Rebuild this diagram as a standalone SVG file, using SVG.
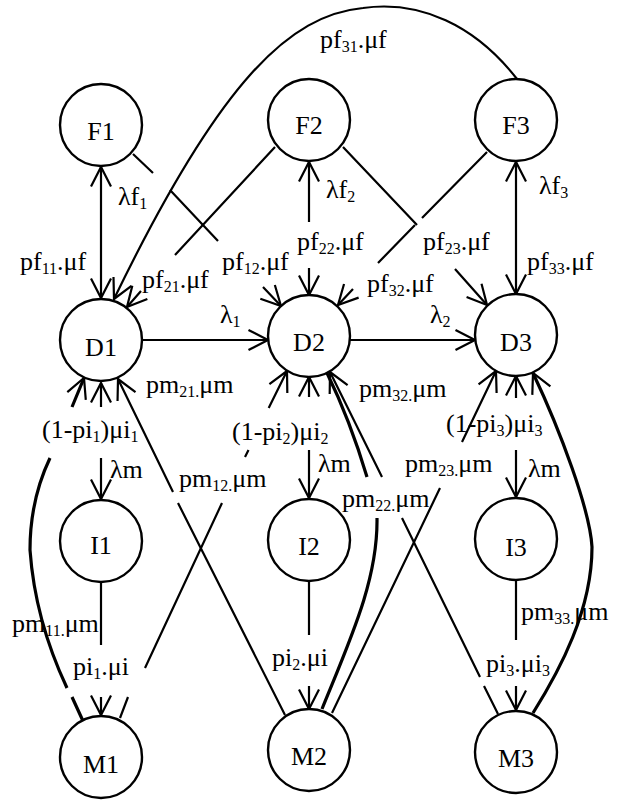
<svg xmlns="http://www.w3.org/2000/svg" width="619" height="801" viewBox="0 0 619 801">
<style>
.c{fill:none;stroke:#000;stroke-width:2.2}
.k{fill:none;stroke:#000;stroke-width:3.2}
.nd{fill:#fff;stroke:#000;stroke-width:2.4}
.t{font-family:"Liberation Serif","Times New Roman",serif;font-size:26px;fill:#000}
.n{text-anchor:middle}
.s{font-size:16px}
</style>
<defs>
<marker id="ah" markerUnits="userSpaceOnUse" markerWidth="30" markerHeight="30" viewBox="-25 -15 30 30" refX="0" refY="0" orient="auto-start-reverse" overflow="visible">
<path d="M-19.5 -10 L0 0 L-19.5 10" fill="none" stroke="#000" stroke-width="2.2"/>
</marker>
</defs>
<rect width="619" height="801" fill="#fff"/>
<g id="connectors">
<line class="c" x1="101" y1="167" x2="101" y2="298" marker-start="url(#ah)" marker-end="url(#ah)"/>
<path class="c" d="M309 222 L309 162" marker-end="url(#ah)"/>
<path class="c" d="M309 268 L309 295" marker-end="url(#ah)"/>
<line class="c" x1="516" y1="162" x2="516" y2="294" marker-start="url(#ah)" marker-end="url(#ah)"/>
<path class="c" d="M133 154 L153 173 M170 190 L218 241 M263 287 L281 306" marker-end="url(#ah)"/>
<path class="c" d="M275 147 L175 255 M141 291 L127 307" marker-end="url(#ah)"/>
<path class="c" d="M343 147 L417 225 M455 269 L487 305" marker-end="url(#ah)"/>
<path class="c" d="M487 152 L422 218 M415 225 L378 263 M353 289 L338 305" marker-end="url(#ah)"/>
<path class="c" d="M517 79 C475 25 420 0 363 8 C290 15 220 80 114 299" marker-end="url(#ah)"/>
<path class="c" d="M143 340 L268 340" marker-end="url(#ah)"/>
<path class="c" d="M350 340 L475 340" marker-end="url(#ah)"/>
<path class="c" d="M101 407 L101 383" marker-end="url(#ah)"/>
<path class="c" d="M101 458 L101 499" marker-end="url(#ah)"/>
<path class="c" d="M309 397 L309 377" marker-end="url(#ah)"/>
<path class="c" d="M309 450 L309 498" marker-end="url(#ah)"/>
<path class="c" d="M516 398 L516 376" marker-end="url(#ah)"/>
<path class="c" d="M516 450 L516 497" marker-end="url(#ah)"/>
<path class="c" d="M101 582 L101 645 M101 697 L101 715" marker-end="url(#ah)"/>
<path class="c" d="M309 581 L309 635 M309 686 L309 709" marker-end="url(#ah)"/>
<path class="c" d="M516 580 L516 640 M516 686 L516 710" marker-end="url(#ah)"/>
<path class="k" d="M83 721 L72 697 M67 688 Q35 620 30 550 Q30 500 50 458 M72 407 L84 378" marker-end="url(#ah)"/>
<path class="c" d="M285 715 L178 503 M173 492 L118 379" marker-end="url(#ah)"/>
<path class="c" d="M120 718 L128 697 M145 668 L222 503 M245 457 L248.5 450 M268.7 408 L287 371" marker-end="url(#ah)"/>
<path class="k" d="M322 709 C350 640 378 580 377 518 M367 477 Q350 420 327 373"/>
<path class="c" d="M498 714 L484 686 M480 677 L402 518 M382 477 L330 372" marker-end="url(#ah)"/>
<path class="c" d="M332 713 L440 488 M462 442 L496 371" marker-end="url(#ah)"/>
<path class="k" d="M533 713 C560 670 592 610 592 547 C590 510 560 430 533 373" marker-end="url(#ah)"/>
</g>
<g id="F1"><circle class="nd" cx="101" cy="125" r="41"/><text class="t n" x="101" y="140">F1</text></g>
<g id="F2"><circle class="nd" cx="309" cy="120" r="41"/><text class="t n" x="309" y="134">F2</text></g>
<g id="F3"><circle class="nd" cx="516" cy="120" r="41"/><text class="t n" x="516" y="134">F3</text></g>
<g id="D1"><circle class="nd" cx="101" cy="340" r="41"/><text class="t n" x="101" y="356">D1</text></g>
<g id="D2"><circle class="nd" cx="309" cy="336" r="41"/><text class="t n" x="309" y="351">D2</text></g>
<g id="D3"><circle class="nd" cx="516" cy="335" r="41"/><text class="t n" x="516" y="351">D3</text></g>
<g id="I1"><circle class="nd" cx="101" cy="541" r="41"/><text class="t n" x="101" y="554">I1</text></g>
<g id="I2"><circle class="nd" cx="309" cy="540" r="41"/><text class="t n" x="309" y="555">I2</text></g>
<g id="I3"><circle class="nd" cx="516" cy="539" r="41"/><text class="t n" x="516" y="556">I3</text></g>
<g id="M1"><circle class="nd" cx="101" cy="757" r="41"/><text class="t n" x="101" y="773">M1</text></g>
<g id="M2"><circle class="nd" cx="309" cy="750" r="41"/><text class="t n" x="309" y="765">M2</text></g>
<g id="M3"><circle class="nd" cx="516" cy="752" r="41"/><text class="t n" x="516" y="767">M3</text></g>
<g id="labels">
<text class="t" x="320" y="48">pf<tspan class="s" dy="4">31</tspan><tspan dy="-4">.μf</tspan></text>
<text class="t" x="118" y="205">λf<tspan class="s" dy="4">1</tspan></text>
<text class="t" x="326" y="198">λf<tspan class="s" dy="4">2</tspan></text>
<text class="t" x="539" y="194">λf<tspan class="s" dy="4">3</tspan></text>
<text class="t" x="20" y="270">pf<tspan class="s" dy="4">11</tspan><tspan dy="-4">.μf</tspan></text>
<text class="t" x="142" y="288">pf<tspan class="s" dy="4">21</tspan><tspan dy="-4">.μf</tspan></text>
<text class="t" x="222" y="270">pf<tspan class="s" dy="4">12</tspan><tspan dy="-4">.μf</tspan></text>
<text class="t" x="297" y="250">pf<tspan class="s" dy="4">22</tspan><tspan dy="-4">.μf</tspan></text>
<text class="t" x="423" y="250">pf<tspan class="s" dy="4">23</tspan><tspan dy="-4">.μf</tspan></text>
<text class="t" x="367" y="292">pf<tspan class="s" dy="4">32</tspan><tspan dy="-4">.μf</tspan></text>
<text class="t" x="527" y="270">pf<tspan class="s" dy="4">33</tspan><tspan dy="-4">.μf</tspan></text>
<text class="t" x="220" y="323">λ<tspan class="s" dy="4">1</tspan></text>
<text class="t" x="430" y="323">λ<tspan class="s" dy="4">2</tspan></text>
<text class="t" x="146" y="393">pm<tspan class="s" dy="4">21.</tspan><tspan dy="-4">μm</tspan></text>
<text class="t" x="359" y="397">pm<tspan class="s" dy="4">32.</tspan><tspan dy="-4">μm</tspan></text>
<text class="t" x="42" y="438">(1-pi<tspan class="s" dy="4">1</tspan><tspan dy="-4">)μi</tspan><tspan class="s" dy="4">1</tspan></text>
<text class="t" x="232" y="440">(1-pi<tspan class="s" dy="4">2</tspan><tspan dy="-4">)μi</tspan><tspan class="s" dy="4">2</tspan></text>
<text class="t" x="446" y="432">(1-pi<tspan class="s" dy="4">3</tspan><tspan dy="-4">)μi</tspan><tspan class="s" dy="4">3</tspan></text>
<text class="t" x="110" y="478">λm</text>
<text class="t" x="318" y="472">λm</text>
<text class="t" x="528" y="477">λm</text>
<text class="t" x="179" y="487">pm<tspan class="s" dy="4">12.</tspan><tspan dy="-4">μm</tspan></text>
<text class="t" x="405" y="472">pm<tspan class="s" dy="4">23.</tspan><tspan dy="-4">μm</tspan></text>
<text class="t" x="342" y="507">pm<tspan class="s" dy="4">22.</tspan><tspan dy="-4">μm</tspan></text>
<text class="t" x="12" y="632">pm<tspan class="s" dy="4">11.</tspan><tspan dy="-4">μm</tspan></text>
<text class="t" x="521" y="620">pm<tspan class="s" dy="4">33.</tspan><tspan dy="-4">μm</tspan></text>
<text class="t" x="73" y="675">pi<tspan class="s" dy="4">1</tspan><tspan dy="-4">.μi</tspan></text>
<text class="t" x="272" y="666">pi<tspan class="s" dy="4">2</tspan><tspan dy="-4">.μi</tspan></text>
<text class="t" x="486" y="672">pi<tspan class="s" dy="4">3</tspan><tspan dy="-4">.μi</tspan><tspan class="s" dy="4">3</tspan></text>
</g>
</svg>
